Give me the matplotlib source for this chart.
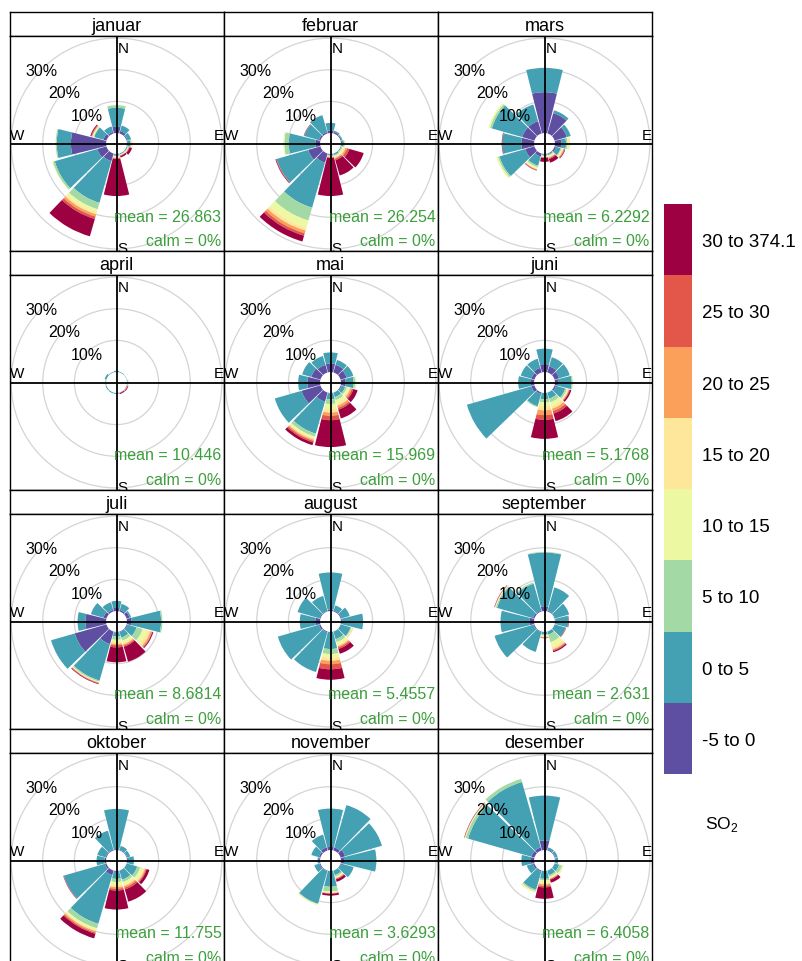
import numpy as np
import matplotlib.pyplot as plt
from matplotlib.patches import Wedge, Circle
from matplotlib.colors import ListedColormap, BoundaryNorm
import matplotlib.cm as cm

plt.rcParams['font.family'] = ['Liberation Sans', 'DejaVu Sans']
plt.rcParams['mathtext.fontset'] = 'custom'
plt.rcParams['mathtext.rm'] = 'Liberation Sans'

months = ['januar', 'februar', 'mars', 'april', 'mai', 'juni',
          'juli', 'august', 'september', 'oktober', 'november', 'desember']
means = ['26.863', '26.254', '6.2292', '10.446', '15.969', '5.1768',
         '8.6814', '5.4557', '2.631', '11.755', '3.6293', '6.4058']
calm = '0%'
directions = np.arange(0, 360, 30)
bin_labels = ['-5 to 0', '0 to 5', '5 to 10', '10 to 15',
              '15 to 20', '20 to 25', '25 to 30', '30 to 374.1']
bin_colors = ['#5E4FA2', '#43A1B3', '#A3D9A4', '#EDF8A2',
              '#FEE79A', '#FBA05B', '#E2574A', '#9E0142']

# frequency (%) by wind sector (rows: N, 30, 60 ... 330) and SO2 class (columns)
jan = [[2.0, 6.0, 0.8, 0, 0, 0, 0, 0],
       [0.8, 1.8, 0, 0, 0, 0, 0, 0],
       [0.3, 1.2, 0, 0, 0, 0, 0, 0],
       [0.2, 0.8, 0.3, 0.3, 0.2, 0, 0, 0],
       [0, 0.3, 0.2, 0.1, 0.1, 0.1, 0.2, 0.8],
       [0, 0.3, 0.1, 0.1, 0.1, 0.1, 0.1, 0.5],
       [0.2, 0.4, 0.2, 0.2, 0.2, 0.2, 0.2, 11.7],
       [2.5, 13.7, 2.1, 1.0, 0.7, 0.7, 0.8, 5.7],
       [3.0, 14.0, 0.6, 0.2, 0, 0, 0, 0],
       [11.1, 4.5, 0.3, 0, 0, 0, 0, 0],
       [1.0, 3.0, 0.2, 0.2, 0.2, 0.2, 0.2, 0.3],
       [0.5, 1.8, 0, 0, 0, 0, 0, 0]]
feb = [[0.8, 2.4, 0, 0, 0, 0, 0, 0],
       [0.5, 0.4, 0, 0, 0, 0, 0, 0],
       [0.3, 0.3, 0.1, 0, 0, 0, 0, 0],
       [0.3, 0.6, 0.3, 0.2, 0, 0, 0, 0],
       [0, 0.3, 0.3, 0.5, 0.5, 0.5, 0.8, 4.7],
       [0, 0.5, 0.3, 0.3, 0.3, 0.3, 0.5, 5.0],
       [0.2, 0.3, 0.2, 0.1, 0.1, 0.2, 0.2, 12.0],
       [3.0, 14.8, 4.2, 2.3, 1.0, 0.9, 0.8, 1.9],
       [4.0, 10.4, 0, 0, 0, 0, 0.2, 0.2],
       [1.5, 8.4, 1.4, 0.3, 0, 0, 0, 0],
       [0.5, 4.8, 0, 0, 0, 0, 0.1, 0.1],
       [0.5, 5.5, 0, 0, 0, 0, 0, 0]]
mar = [[12.9, 7.7, 0, 0, 0, 0, 0, 0],
       [6.7, 0.9, 0, 0, 0, 0, 0, 0],
       [4.0, 1.3, 0, 0, 0, 0, 0, 0],
       [2.0, 1.5, 0.5, 0.5, 0.3, 0, 0, 0],
       [0.5, 1.5, 0.3, 0.3, 0.3, 0.2, 0.2, 0.2],
       [0.2, 0.3, 0.2, 0.3, 0.3, 0.2, 0.3, 1.2],
       [0.2, 0.3, 0.2, 0.2, 0.1, 0.1, 0.2, 1.2],
       [1.0, 3.0, 0.5, 0.5, 0.2, 0.1, 0.2, 0.1],
       [3.0, 8.5, 0.5, 0.5, 0, 0, 0, 0],
       [4.0, 6.0, 0, 0, 0, 0, 0.1, 0.1],
       [4.0, 10.0, 0.6, 0.5, 0, 0, 0, 0],
       [4.0, 5.5, 0, 0, 0, 0, 0, 0]]
apr = [[0, 0.4, 0, 0, 0, 0, 0, 0],
       [0, 0.2, 0, 0, 0, 0, 0, 0],
       [0, 0.1, 0, 0, 0, 0, 0, 0],
       [0, 0.2, 0.2, 0.2, 0, 0, 0, 0],
       [0, 0.1, 0, 0, 0, 0.1, 0.2, 0.2],
       [0, 0.1, 0, 0, 0, 0, 0.1, 0.3],
       [0, 0.3, 0, 0, 0, 0, 0, 0],
       [0, 0.3, 0, 0, 0, 0, 0, 0],
       [0, 0.3, 0, 0, 0, 0, 0, 0],
       [0, 0.2, 0, 0, 0, 0, 0, 0],
       [0, 0.6, 0, 0, 0, 0, 0, 0],
       [0, 0.2, 0, 0, 0, 0, 0, 0]]
mai = [[2.7, 3.5, 0, 0, 0, 0, 0, 0],
       [2.5, 1.6, 0, 0, 0, 0, 0, 0],
       [2.0, 2.2, 0, 0, 0, 0, 0, 0],
       [1.5, 2.5, 0.5, 0.4, 0, 0, 0, 0],
       [0.3, 1.2, 0.6, 0.6, 0.5, 0.5, 0.5, 1.4],
       [0, 1.5, 1.0, 1.0, 0.8, 0.7, 0.6, 2.9],
       [0.2, 1.8, 1.5, 1.6, 1.1, 1.0, 1.4, 8.5],
       [3.0, 10.5, 1.0, 0.5, 0.5, 0.4, 0.5, 0.9],
       [6.2, 8.8, 0, 0, 0, 0, 0, 0],
       [4.0, 2.9, 0, 0, 0, 0, 0, 0],
       [3.0, 3.0, 0, 0, 0, 0, 0, 0],
       [2.5, 2.9, 0, 0, 0, 0, 0, 0]]
jun = [[2.5, 4.9, 0, 0, 0, 0, 0, 0],
       [2.0, 3.0, 0, 0, 0, 0, 0, 0],
       [1.5, 3.5, 0, 0, 0, 0, 0, 0],
       [1.0, 4.3, 0.3, 0.2, 0, 0, 0, 0],
       [0.5, 3.0, 0.5, 0.3, 0.3, 0.2, 0.2, 0.5],
       [0, 2.0, 1.2, 1.2, 0.9, 0.8, 0.8, 2.5],
       [0, 2.0, 1.0, 1.0, 1.5, 1.5, 1.5, 6.0],
       [0.5, 4.0, 0.3, 0, 0, 0, 0, 0],
       [1.0, 21.2, 0, 0, 0, 0, 0, 0],
       [1.0, 4.0, 0, 0, 0, 0, 0, 0],
       [1.0, 3.5, 0, 0, 0, 0, 0, 0],
       [1.5, 3.0, 0, 0, 0, 0, 0, 0]]
jul = [[1.0, 2.2, 0, 0, 0, 0, 0, 0],
       [0.5, 2.0, 0, 0, 0, 0, 0, 0],
       [1.0, 0.5, 0, 0, 0, 0, 0, 0],
       [1.4, 9.4, 0.4, 0, 0, 0, 0, 0],
       [0.3, 3.0, 2.0, 1.5, 1.0, 0.5, 0.2, 0.3],
       [0.2, 1.8, 1.0, 0.7, 0.5, 0.4, 0.4, 4.9],
       [0.2, 1.2, 1.1, 0.7, 0.6, 0.4, 0.7, 4.7],
       [4.1, 12.0, 0.4, 0.2, 0.1, 0.1, 0.2, 0.2],
       [10.4, 7.8, 0, 0, 0, 0, 0, 0],
       [6.5, 2.5, 0, 0, 0, 0, 0, 0],
       [1.0, 4.1, 0, 0, 0, 0, 0, 0],
       [0.5, 2.5, 0, 0, 0, 0, 0, 0]]
aug = [[0.5, 11.7, 0, 0, 0, 0, 0, 0],
       [0.3, 1.7, 0, 0, 0, 0, 0, 0],
       [0.3, 2.7, 0, 0, 0, 0, 0, 0],
       [0.3, 6.7, 0, 0, 0, 0, 0, 0],
       [0, 3.3, 0.3, 0.3, 0.1, 0.1, 0, 0],
       [0, 2.5, 1.0, 0.8, 0.5, 0.4, 0.5, 1.6],
       [0, 5.4, 1.6, 1.1, 1.0, 1.1, 1.6, 3.3],
       [0.3, 13.0, 0, 0, 0, 0, 0, 0],
       [0.5, 13.5, 0, 0, 0, 0, 0, 0],
       [1.5, 4.9, 0, 0, 0, 0, 0, 0],
       [0.3, 7.2, 0, 0, 0, 0, 0, 0],
       [0.2, 4.9, 0, 0, 0, 0, 0, 0]]
sep = [[1.5, 17.0, 0.2, 0, 0, 0, 0, 0],
       [0.3, 7.6, 0, 0, 0, 0, 0, 0],
       [0.2, 4.6, 0, 0, 0, 0, 0, 0],
       [0.2, 4.0, 0, 0, 0, 0, 0.1, 0.1],
       [0, 3.6, 0, 0, 0, 0, 0.1, 0.1],
       [0, 1.0, 2.5, 1.5, 0.8, 0.3, 0.3, 0.4],
       [0, 0.8, 0.3, 0.3, 0.2, 0.2, 0.1, 0.1],
       [0.2, 6.5, 0, 0, 0, 0, 0, 0],
       [0.3, 12.8, 0, 0, 0, 0, 0, 0],
       [1.5, 9.1, 0, 0, 0, 0, 0, 0],
       [0.5, 11.8, 0.4, 0.2, 0.1, 0, 0.1, 0.1],
       [0.3, 8.8, 0.4, 0, 0, 0, 0, 0]]
okt = [[0.3, 12.7, 0, 0, 0, 0, 0, 0],
       [0.2, 1.3, 0, 0, 0, 0, 0, 0],
       [0.2, 1.0, 0, 0, 0, 0, 0, 0],
       [0.3, 1.9, 0, 0, 0, 0, 0, 0],
       [0, 3.5, 1.0, 1.0, 0.5, 0.3, 0.3, 0.9],
       [0, 3.0, 0.8, 0.8, 0.5, 0.5, 0.6, 4.0],
       [0.3, 2.2, 1.0, 1.0, 0.6, 0.5, 0.6, 6.0],
       [1.5, 16.0, 1.5, 0.6, 0.4, 0.4, 0.4, 1.5],
       [0.5, 13.5, 0, 0, 0, 0, 0.1, 0.1],
       [0.5, 2.5, 0, 0, 0, 0, 0, 0],
       [0.3, 2.7, 0, 0, 0, 0, 0, 0],
       [0.3, 6.2, 0, 0, 0, 0, 0, 0]]
nov = [[1.0, 12.1, 0, 0, 0, 0, 0, 0],
       [1.0, 13.9, 0, 0, 0, 0, 0, 0],
       [1.5, 12.1, 0, 0, 0, 0, 0, 0],
       [1.0, 10.2, 0, 0, 0, 0, 0, 0],
       [0.2, 4.1, 0, 0, 0, 0, 0, 0],
       [0, 1.5, 0.5, 0.3, 0.2, 0.2, 0.2, 0.8],
       [0, 5.0, 1.5, 0.3, 0.2, 0.1, 0.1, 0.6],
       [0.2, 10.7, 0.2, 0.2, 0.1, 0, 0, 0],
       [0.3, 1.7, 0, 0, 0, 0, 0, 0],
       [0.3, 0.5, 0, 0, 0, 0, 0, 0],
       [0.5, 2.5, 0, 0, 0, 0, 0, 0],
       [1.0, 4.2, 0, 0, 0, 0, 0, 0]]
des = [[3.0, 14.2, 0, 0, 0, 0, 0, 0],
       [0.3, 0.7, 0, 0, 0, 0, 0, 0],
       [0.2, 0.8, 0, 0, 0, 0, 0, 0],
       [0.2, 0.8, 0, 0, 0, 0, 0, 0],
       [0, 1.5, 1.0, 0.3, 0.2, 0, 0, 0],
       [0, 1.5, 0.5, 0.3, 0.3, 0.2, 0.2, 1.0],
       [0, 2.5, 0.5, 0.7, 0.5, 0.5, 0.5, 3.6],
       [0.3, 6.0, 0.5, 0.3, 0.2, 0, 0, 0],
       [0.5, 2.0, 0, 0, 0, 0, 0, 0],
       [1.0, 3.0, 0, 0, 0, 0, 0, 0],
       [1.0, 20.8, 0.8, 0.2, 0.1, 0, 0.1, 0.1],
       [1.0, 21.5, 1.0, 0, 0, 0, 0, 0]]
freqs = [jan, feb, mar, apr, mai, jun, jul, aug, sep, okt, nov, des]

W, H = 802, 962
hole = 3.3          # radius of the empty centre, in % units
px_per_unit = 3.166
half_width = 14     # half angular width of a sector wedge (deg)
green = '#3C9E3C'

fig = plt.figure(figsize=(W / 100, H / 100), dpi=100)


def box(x, y, w, h):
    # pixel box measured from the top-left corner -> figure fraction
    return [x / W, 1 - (y + h) / H, w / W, h / H]


for i, month in enumerate(months):
    row, col = divmod(i, 3)
    x0 = 9.5 + 214 * col
    y0 = 13 + 239 * row

    # strip with the month name
    sax = fig.add_axes(box(x0, y0, 214, 24))
    sax.set_xticks([]); sax.set_yticks([])
    for s in sax.spines.values():
        s.set_linewidth(1.0)
    sax.text(0.5, 0.45, month, ha='center', va='center', fontsize=13,
             transform=sax.transAxes)

    ax = fig.add_axes(box(x0, y0 + 24, 214, 215))
    ax.set_xticks([]); ax.set_yticks([])
    for s in ax.spines.values():
        s.set_linewidth(1.0)
    hx = 107 / px_per_unit
    hy = 107.5 / px_per_unit
    ax.set_xlim(-hx, hx)
    ax.set_ylim(-hy, hy)

    for p in (10, 20, 30):
        ax.add_patch(Circle((0, 0), hole + p, fill=False, ec='#D4D4D4', lw=0.9))

    data = np.array(freqs[i], dtype=float)
    tops = np.cumsum(data, axis=1)
    for d, inc, top in zip(directions, data, tops):
        for k in range(len(bin_colors)):
            if inc[k] <= 0:
                continue
            ang = 90 - d
            ax.add_patch(Wedge((0, 0), hole + top[k], ang - half_width,
                               ang + half_width, width=inc[k],
                               fc=bin_colors[k], ec='none'))

    ax.axhline(0, color='black', lw=1.3)
    ax.axvline(0, color='black', lw=1.3)

    for p in (10, 20, 30):
        r = hole + p
        ax.text(r * np.cos(np.radians(135)), r * np.sin(np.radians(135)),
                f'{p}%', ha='center', va='center_baseline', fontsize=11.5)

    ax.text(0.5 + 1 / 214, 1 - 5 / 215, 'N', transform=ax.transAxes,
            ha='left', va='top', fontsize=11)
    ax.text(1 - 10 / 214, 0.5 + 2 / 215, 'E', transform=ax.transAxes,
            ha='left', va='bottom', fontsize=11, clip_on=True)
    ax.text(0, 0.5 + 2 / 215, 'W', transform=ax.transAxes,
            ha='left', va='bottom', fontsize=11, clip_on=True)
    ax.text(0.5 + 1 / 214, 10 / 215, 'S', transform=ax.transAxes,
            ha='left', va='top', fontsize=11, clip_on=True)

    ax.text(1 - 2 / 214, 35 / 215, f'mean = {means[i]}', transform=ax.transAxes,
            ha='right', va='center', fontsize=11.5, color=green)
    ax.text(1 - 2 / 214, 10 / 215, f'calm = {calm}', transform=ax.transAxes,
            ha='right', va='center', fontsize=11.5, color=green)

# colour key
cax = fig.add_axes(box(664, 205, 28, 570))
cmap = ListedColormap(bin_colors)
norm = BoundaryNorm(np.arange(len(bin_colors) + 1), cmap.N)
cb = fig.colorbar(cm.ScalarMappable(norm=norm, cmap=cmap), cax=cax)
cb.set_ticks(np.arange(len(bin_colors)) + 0.5)
cb.set_ticklabels(bin_labels)
cb.ax.minorticks_off()
cb.ax.tick_params(which='both', length=0, labelsize=13.5, pad=7)
cb.outline.set_visible(False)
fig.text(705 / W, 1 - 825 / H, r'SO$_2$', fontsize=12.5, ha='left', va='center')

fig.savefig('out.png', dpi=100)
